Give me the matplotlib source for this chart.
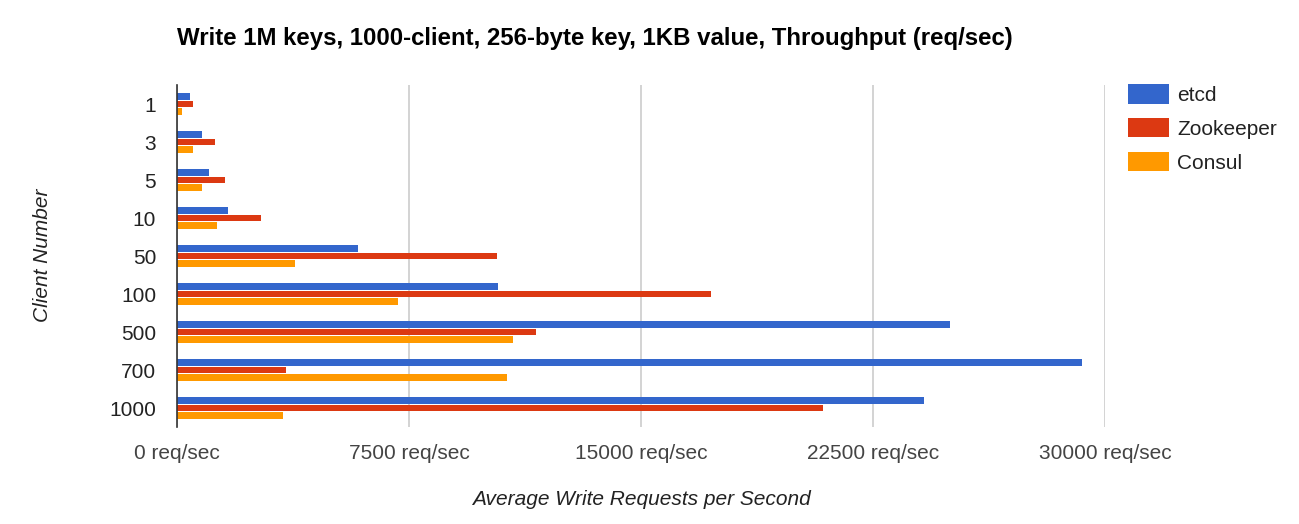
import numpy as np
import matplotlib
matplotlib.use("Agg")
import matplotlib.pyplot as plt
import matplotlib.patches as patches

plt.rcParams['font.family'] = ['Liberation Sans', 'DejaVu Sans']

# 데이터
clients = ["1", "3", "5", "10", "50", "100", "500", "700", "1000"]
etcd = [420, 810, 1050, 1640, 5840, 10390, 24980, 29270, 24150]
zookeeper = [520, 1240, 1540, 2700, 10340, 17270, 11590, 3520, 20890]
consul = [170, 520, 810, 1290, 3810, 7140, 10860, 10670, 3430]

series_names = ["etcd", "Zookeeper", "Consul"]
colors = ["#3366CC", "#DC3912", "#FF9900"]
x_ticks = [0, 7500, 15000, 22500, 30000]

fig = plt.figure(figsize=(12.99, 5.24), dpi=100)
ax = fig.add_axes([177 / 1299, 1 - 427 / 524, (1105 - 177) / 1299, (427 - 85) / 524])

y = np.arange(len(clients))
offset = 0.197
bar_h = 0.16
for i, (vals, c) in enumerate(zip([etcd, zookeeper, consul], colors)):
    ax.barh(y + (i - 1) * offset, vals, height=bar_h, color=c, zorder=3)

ax.set_ylim(len(clients) - 0.5, -0.5)
ax.set_xlim(0, 30000)
ax.set_yticks(y)
ax.set_yticklabels(clients, fontsize=15, color="#222222")
ax.set_xticks(x_ticks)
ax.set_xticklabels([f"{v} req/sec" for v in x_ticks], fontsize=15, color="#444444")
ax.tick_params(axis="y", length=0, pad=15)
ax.tick_params(axis="x", length=0, pad=12)
ax.grid(axis="x", color="#cccccc", linewidth=1.2, zorder=0)

for s in ["top", "right", "bottom"]:
    ax.spines[s].set_visible(False)
ax.spines["left"].set_color("#333333")
ax.spines["left"].set_linewidth(1.2)
ax.spines["left"].set_zorder(4)

ax.set_xlabel("Average Write Requests per Second", fontsize=15, style="italic",
              color="#222222", labelpad=20)
fig.text(43 / 1299, 1 - 255 / 524, "Client Number", rotation=90, fontsize=15,
         style="italic", color="#222222", ha="center", va="center")

fig.text(177 / 1299, 1 - 38 / 524,
         "Write 1M keys, 1000-client, 256-byte key, 1KB value, Throughput (req/sec)",
         fontsize=17.25, fontweight="bold", color="#000000", ha="left", va="center")

# 범례
handles = [patches.Patch(facecolor=c, edgecolor="none") for c in colors]
fig.legend(handles, series_names, loc="upper left",
           bbox_to_anchor=(1128 / 1299, 1 - 84 / 524), frameon=False,
           borderpad=0, borderaxespad=0,
           fontsize=15, handlelength=1.97, handleheight=1.07,
           handletextpad=0.4, labelspacing=0.62, labelcolor="#222222")

fig.savefig("out.png", dpi=100)
